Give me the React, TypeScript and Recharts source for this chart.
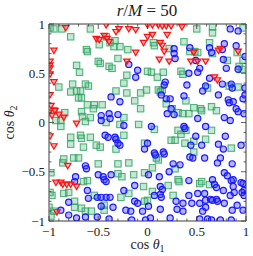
import React from 'react';
import { ScatterChart, Scatter, XAxis, YAxis, Label } from 'recharts';

const majorTicks = [-1, -0.5, 0, 0.5, 1];
const allTicks = [-1, -0.9, -0.8, -0.7, -0.6, -0.5, -0.4, -0.3, -0.2, -0.1, 0, 0.1, 0.2, 0.3, 0.4, 0.5, 0.6, 0.7, 0.8, 0.9, 1];

const redPoints: [number, number][] = [
  [-0.83, 0.96], [-0.42, 0.99], [-0.32, 0.92], [-0.29, 0.95], [-0.19, 0.95], [-0.12, 0.94], [0.0, 0.99], [0.05, 0.99],
  [0.11, 0.99], [0.15, 0.98], [0.19, 0.98], [0.24, 0.98], [0.35, 0.97], [-0.52, 0.85], [-0.49, 0.84], [-0.44, 0.88],
  [-0.41, 0.85], [-0.39, 0.82], [0.0, 0.87], [0.05, 0.89], [0.2, 0.89], [-0.04, 0.81], [0.13, 0.81], [0.15, 0.78],
  [0.17, 0.72], [-0.12, 0.71], [-0.21, 0.62], [0.12, 0.64], [0.22, 0.62], [0.44, 0.62], [0.51, 0.62], [0.59, 0.62],
  [0.47, 0.71], [0.72, 0.73], [0.74, 0.75], [0.92, 0.72], [0.68, 0.46], [0.71, 0.43], [-0.99, 0.62], [-0.99, 0.58],
  [-0.99, 0.55], [-0.99, 0.49], [-0.95, 0.41], [-0.95, 0.73], [-0.99, 0.28], [-0.98, 0.17], [-0.94, 0.12], [-1.0, 0.1],
  [-0.97, 0.07], [-0.9, 0.08], [-0.85, 0.05], [-0.72, -0.01], [-0.99, -0.14], [-0.95, -0.24], [-0.81, -0.44],
  [-0.93, -0.61], [-0.88, -0.61], [-0.86, -0.63], [-0.82, -0.63], [-0.78, -0.63], [-0.72, -0.65], [-0.92, -0.91],
];

const greenPoints: [number, number][] = [
  [-0.99, 0.96], [-0.95, 0.95], [-0.87, 0.95], [-0.58, 0.95], [-0.78, 0.87], [-0.42, 0.87], [-0.33, 0.83], [-0.38, 0.81],
  [-0.49, 0.79], [-0.62, 0.74], [-0.61, 0.72], [-0.34, 0.77], [-0.28, 0.77], [-0.2, 0.74], [-0.3, 0.65], [-0.5, 0.62],
  [-0.48, 0.6], [-0.39, 0.57], [-0.36, 0.55], [-0.72, 0.58], [-0.69, 0.51], [-0.9, 0.36], [-0.76, 0.39], [-0.63, 0.39],
  [-0.6, 0.37], [-0.78, 0.31], [-0.72, 0.32], [-0.68, 0.32], [-0.67, 0.25], [-0.7, 0.25], [-0.32, 0.32], [-0.21, 0.3],
  [-0.07, 0.3], [-0.01, 0.33], [-0.61, 0.18], [-0.54, 0.18], [-0.55, 0.14], [-0.46, 0.18], [-0.13, 0.22], [-0.95, 0.12],
  [-0.84, 0.1], [-0.93, 0.02], [-0.88, 0.02], [-0.67, 0.11], [-0.66, 0.06], [-0.58, 0.05], [-0.63, 0.01], [-0.24, 0.05],
  [-0.07, 0.14], [-0.21, 0.48], [-0.24, 0.4],
  [0.5, 0.95], [0.97, 0.96], [0.66, 0.97], [0.66, 0.91], [0.06, 0.81], [0.07, 0.78], [0.22, 0.75], [0.37, 0.82],
  [0.63, 0.81], [0.43, 0.72], [0.48, 0.72], [0.51, 0.71], [0.66, 0.7], [0.91, 0.71], [0.81, 0.63], [0.97, 0.63],
  [0.93, 0.57], [0.96, 0.54], [0.0, 0.52], [0.04, 0.51], [0.1, 0.46], [0.16, 0.51], [0.34, 0.52], [0.36, 0.49],
  [0.11, 0.33], [0.15, 0.33], [0.13, 0.31], [0.61, 0.35], [0.92, 0.36], [0.39, 0.22], [0.19, 0.19], [0.25, 0.14],
  [0.31, 0.1], [0.36, 0.09], [0.42, 0.09], [0.47, 0.15], [0.54, 0.14], [0.55, 0.12], [0.65, 0.16], [0.7, 0.12], [0.83, 0.37],
  [0.07, -0.07], [0.31, -0.08], [0.34, -0.12], [0.39, -0.08], [0.65, -0.08], [0.24, -0.18], [0.28, -0.18], [0.38, -0.21],
  [0.47, -0.19], [0.59, -0.17], [0.85, -0.26], [0.47, -0.3], [0.09, -0.36], [0.11, -0.38], [0.05, -0.46], [0.28, -0.47],
  [0.31, -0.58], [0.32, -0.6], [0.53, -0.62], [0.55, -0.6], [0.63, -0.63], [0.21, -0.64], [0.26, -0.74], [0.05, -0.7],
  [0.0, -0.79],
  [-0.88, -0.04], [-0.78, -0.15], [-0.68, -0.13], [-0.67, -0.16], [-0.58, -0.15], [-0.24, -0.13], [-0.42, 0.0],
  [-0.28, -0.02], [-0.09, -0.02], [-0.03, -0.21], [-0.78, -0.22], [-0.65, -0.25], [-0.52, -0.23], [-0.48, -0.25],
  [-0.32, -0.27], [-0.85, -0.37], [-0.86, -0.41], [-0.75, -0.36], [-0.7, -0.36], [-0.98, -0.51], [-0.5, -0.42],
  [-0.3, -0.42], [-0.19, -0.41], [-0.65, -0.6], [-0.61, -0.59], [-0.3, -0.52], [-0.26, -0.55], [-0.14, -0.53],
  [-0.03, -0.51], [-0.04, -0.65], [-0.8, -0.71], [-0.85, -0.72], [-0.99, -0.71], [-0.97, -0.74], [-0.74, -0.8],
  [-0.74, -0.86], [-0.54, -0.74], [-0.44, -0.84], [-0.44, -0.89], [-0.27, -0.76], [-0.19, -0.72], [-1.0, -0.86],
  [-0.95, -0.9], [-0.98, -0.95], [-0.67, -0.87], [-0.63, -0.9], [-0.57, -0.9], [-0.03, -0.8],
];

const bluePoints: [number, number][] = [
  [-0.19, 0.59], [-0.1, 0.53], [-0.12, 0.46], [-0.37, 0.26], [-0.28, 0.21], [-0.39, 0.09], [-0.3, 0.08], [-0.47, 0.07],
  [-0.47, 0.02], [-0.38, 0.04],
  [0.84, 0.95], [0.92, 0.93], [0.78, 0.8], [0.63, 0.76], [0.43, 0.76], [0.27, 0.75], [0.27, 0.7], [0.65, 0.71],
  [0.76, 0.74], [0.9, 0.78], [0.28, 0.65], [0.49, 0.63], [0.53, 0.55], [0.77, 0.64], [0.99, 0.67], [0.42, 0.5],
  [0.51, 0.51], [0.8, 0.55], [0.92, 0.54], [0.18, 0.41], [0.17, 0.38], [0.4, 0.38], [0.59, 0.37], [0.56, 0.32],
  [0.76, 0.39], [0.85, 0.39], [0.86, 0.35], [0.99, 0.35], [0.19, 0.24], [0.23, 0.24], [0.37, 0.27], [0.72, 0.28],
  [0.82, 0.23], [0.83, 0.2], [0.87, 0.21], [0.97, 0.24], [0.99, 0.28], [0.2, 0.09], [0.27, 0.08], [0.24, 0.14],
  [0.51, 0.04], [0.78, 0.05], [0.84, 0.02], [0.9, 0.14], [0.92, 0.11], [0.98, 0.09], [0.63, 0.45], [0.14, 0.28],
  [0.04, -0.04], [0.37, -0.04], [0.38, -0.06], [0.59, -0.04], [0.49, -0.14], [0.79, -0.14], [0.0, -0.21], [0.16, -0.3],
  [0.17, -0.32], [0.44, -0.23], [0.55, -0.23], [0.72, -0.22], [0.77, -0.27], [0.95, -0.23], [0.43, -0.35], [0.46, -0.36],
  [0.58, -0.36], [0.74, -0.36], [0.71, -0.41], [0.33, -0.43], [0.26, -0.42], [0.22, -0.5], [0.78, -0.51], [0.81, -0.54],
  [0.85, -0.59], [0.86, -0.42], [0.95, -0.61], [0.97, -0.62], [0.98, -0.69], [0.01, -0.53], [0.12, -0.55], [0.42, -0.59],
  [0.66, -0.58], [0.68, -0.63], [0.7, -0.66], [0.87, -0.58], [0.87, -0.65], [0.13, -0.65], [0.15, -0.68], [0.13, -0.73],
  [0.14, -0.76], [0.07, -0.74], [0.42, -0.74], [0.51, -0.72], [0.58, -0.72], [0.59, -0.79], [0.64, -0.78], [0.66, -0.79],
  [0.7, -0.78], [0.71, -0.8], [0.77, -0.69], [0.84, -0.74], [0.88, -0.71], [0.96, -0.71], [0.98, -0.74], [0.29, -0.8],
  [0.36, -0.82], [0.45, -0.82], [0.53, -0.82], [0.59, -0.86], [0.56, -0.9], [0.78, -0.82], [0.86, -0.89], [0.91, -0.84],
  [0.97, -0.89], [0.01, -0.85], [0.13, -0.88], [0.3, -0.88], [0.36, -0.9], [0.23, -0.97], [0.53, -0.98], [0.61, -0.98],
  [0.65, -0.99], [0.85, -0.99], [0.74, -0.99], [0.07, -0.31], [0.08, -0.33], [-0.02, -0.99], [0.03, -0.97],
  [-0.43, -0.13], [-0.4, -0.15], [-0.33, -0.15], [-0.32, -0.17], [-0.3, -0.21], [-0.28, -0.23], [-0.24, -0.03],
  [-0.03, -0.27], [-0.63, -0.44], [-0.62, -0.47], [-0.5, -0.53], [-0.45, -0.55], [-0.44, -0.58], [-0.73, -0.55],
  [-0.74, -0.6], [-0.37, -0.53], [-0.42, -0.6], [-0.13, -0.64], [-0.61, -0.69], [-0.6, -0.77], [-0.8, -0.81],
  [-0.51, -0.76], [-0.47, -0.76], [-0.42, -0.76], [-0.38, -0.76], [-0.47, -0.85], [-0.24, -0.69], [-0.13, -0.8],
  [-0.1, -0.82], [-0.35, -0.86], [-0.22, -0.89], [-0.17, -0.9], [-0.88, -0.89], [-0.8, -0.94], [-0.72, -0.97],
  [-0.63, -0.96], [-0.51, -0.96], [-0.39, -0.98], [-0.16, -0.99], [-0.05, -0.9],
];

const toObjs = (pts: [number, number][]) => pts.map(([x, y]) => ({ x, y }));

const fmt = (v: number) => (v < 0 ? '\u2212' + Math.abs(v) : String(v));

const SERIF = '"Liberation Serif", "DejaVu Serif", serif';
const AXIS_COLOR = '#3a3a3a';
const GAP = 10;
const MAJOR_LEN = 5;
const MINOR_LEN = 2.5;

const isMajor = (v: number) => majorTicks.some((m) => Math.abs(m - v) < 1e-9);

const makeTick = (side: 'bottom' | 'left' | 'top' | 'right') => (props: any) => {
  const { x, y, payload } = props;
  const v = payload.value;
  const major = isMajor(v);
  const len = major ? MAJOR_LEN : MINOR_LEN;
  if (side === 'bottom') {
    const ay = y - GAP;
    return (
      <g>
        <line x1={x} y1={ay} x2={x} y2={ay - len} stroke={AXIS_COLOR} strokeWidth={0.8} />
        {major && (
          <text x={x} y={ay + 14.5} textAnchor="middle" fontFamily={SERIF} fontSize={13} fill="#222">{fmt(v)}</text>
        )}
      </g>
    );
  }
  if (side === 'left') {
    const ax = x + GAP;
    return (
      <g>
        <line x1={ax} y1={y} x2={ax + len} y2={y} stroke={AXIS_COLOR} strokeWidth={0.8} />
        {major && (
          <text x={ax - 4} y={y + 4.5} textAnchor="end" fontFamily={SERIF} fontSize={13} fill="#222">{fmt(v)}</text>
        )}
      </g>
    );
  }
  if (side === 'top') {
    return <line x1={x} y1={y} x2={x} y2={y + len} stroke={AXIS_COLOR} strokeWidth={0.8} />;
  }
  return <line x1={x} y1={y} x2={x - len} y2={y} stroke={AXIS_COLOR} strokeWidth={0.8} />;
};

const Circle = (props: any) => {
  const { cx, cy } = props;
  if (cx == null || cy == null) return null;
  return <circle cx={cx} cy={cy} r={3.1} fill="rgba(40,40,255,0.35)" stroke="#1a1aff" strokeWidth={1.2} />;
};

const Square = (props: any) => {
  const { cx, cy } = props;
  if (cx == null || cy == null) return null;
  return (
    <rect x={cx - 3.2} y={cy - 3.2} width={6.4} height={6.4} fill="rgba(60,179,113,0.3)" stroke="rgba(46,160,96,0.8)" strokeWidth={1.1} />
  );
};

const Tri = (props: any) => {
  const { cx, cy } = props;
  if (cx == null || cy == null) return null;
  const pts = `${cx - 3.2},${cy - 2.4} ${cx + 3.2},${cy - 2.4} ${cx},${cy + 3}`;
  return <polygon points={pts} fill="rgba(255,80,80,0.45)" stroke="#ff1010" strokeWidth={1.2} />;
};

const XLabel = (props: any) => {
  const vb = props.viewBox || {};
  const cx = vb.x + vb.width / 2;
  return (
    <text x={cx} y={vb.y + 28} textAnchor="middle" fontFamily={SERIF} fontSize={14} fill="#222">
      cos <tspan fontStyle="italic">θ</tspan>
      <tspan fontSize={10} dy={3}>1</tspan>
    </text>
  );
};

const YLabel = (props: any) => {
  const vb = props.viewBox || {};
  const cy = vb.y + vb.height / 2;
  const x = 13.5;
  return (
    <text x={x} y={cy} transform={`rotate(-90 ${x} ${cy})`} textAnchor="middle" fontFamily={SERIF} fontSize={14} fill="#222">
      cos <tspan fontStyle="italic">θ</tspan>
      <tspan fontSize={10} dy={3}>2</tspan>
    </text>
  );
};

export default function App() {
  const red = toObjs(redPoints);
  const green = toObjs(greenPoints);
  const blue = toObjs(bluePoints);
  return (
    <div style={{ position: 'absolute', left: 0, top: 0, width: 253, height: 256, background: '#fff' }}>
      <div
        style={{
          position: 'absolute',
          left: 97,
          width: 100,
          top: 1,
          textAlign: 'center',
          fontFamily: SERIF,
          fontSize: 17,
          color: '#222',
          whiteSpace: 'nowrap',
          lineHeight: '20px',
        }}
      >
        <i>r</i>/<i>M</i> = 50
      </div>
      <ScatterChart width={253} height={256} margin={{ top: 23, right: 6, bottom: 15, left: 19 }}>
        <XAxis xAxisId="x" dataKey="x" type="number" domain={[-1, 1]} allowDataOverflow ticks={allTicks} interval={0}
          height={20} tickSize={0} tickMargin={GAP} tick={makeTick('bottom')} tickLine={false}
          axisLine={{ stroke: AXIS_COLOR }}>
          <Label content={<XLabel />} />
        </XAxis>
        <XAxis xAxisId="xt" dataKey="x" orientation="top" type="number" domain={[-1, 1]} allowDataOverflow ticks={allTicks} interval={0}
          height={1} tickSize={0} tickMargin={0} tick={makeTick('top')} tickLine={false} axisLine={{ stroke: AXIS_COLOR }} />
        <YAxis yAxisId="y" dataKey="y" type="number" domain={[-1, 1]} allowDataOverflow ticks={allTicks} interval={0}
          width={30} tickSize={0} tickMargin={GAP} tick={makeTick('left')} tickLine={false}
          axisLine={{ stroke: AXIS_COLOR }}>
          <Label content={<YLabel />} />
        </YAxis>
        <YAxis yAxisId="yr" dataKey="y" orientation="right" type="number" domain={[-1, 1]} allowDataOverflow ticks={allTicks} interval={0}
          width={1} tickSize={0} tickMargin={0} tick={makeTick('right')} tickLine={false} axisLine={{ stroke: AXIS_COLOR }} />
        <Scatter xAxisId="x" yAxisId="y" data={green} shape={<Square />} isAnimationActive={false} />
        <Scatter xAxisId="xt" yAxisId="yr" data={blue} shape={<Circle />} isAnimationActive={false} />
        <Scatter xAxisId="x" yAxisId="y" data={red} shape={<Tri />} isAnimationActive={false} />
      </ScatterChart>
    </div>
  );
}
